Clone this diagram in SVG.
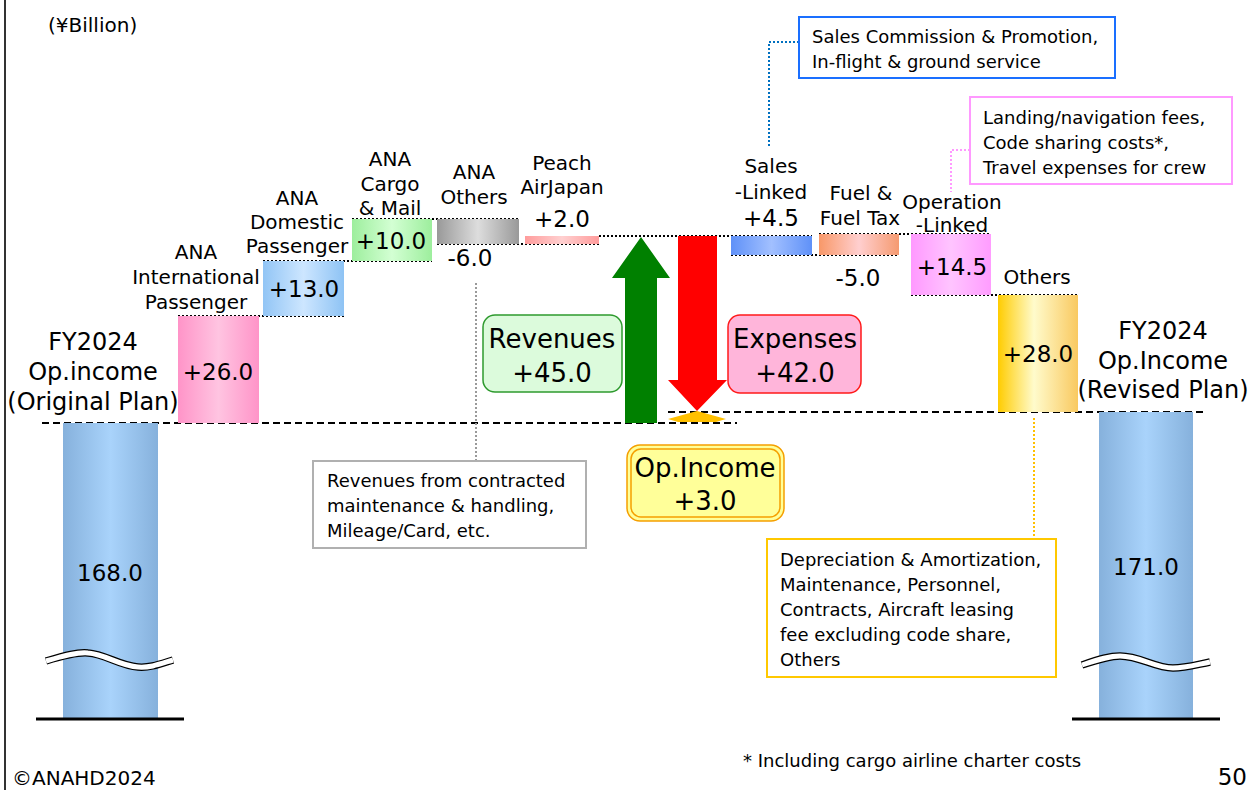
<svg xmlns="http://www.w3.org/2000/svg" width="1250" height="790" viewBox="0 0 1250 790">
<style>
text{font-family:"DejaVu Sans","Verdana",sans-serif;fill:#000}
.lbl{font-size:20px;text-anchor:middle}
.val{font-size:23px;text-anchor:middle}
.big{font-size:24px;text-anchor:middle}
.box{font-size:26px;text-anchor:middle}
.note{font-size:18px}
.dot{fill:none;stroke:#000;stroke-width:2;stroke-dasharray:2 2}
.dash{fill:none;stroke:#000;stroke-width:2;stroke-dasharray:7 4}
.base{stroke:#000;stroke-width:3}
.wave{fill:none;stroke:#000;stroke-width:7.5}
.wavein{fill:none;stroke:#fff;stroke-width:5}
</style>
<defs>
<linearGradient id="gBig" x1="0" x2="1" y1="0" y2="0"><stop offset="0" stop-color="#86b1dc"/><stop offset="0.5" stop-color="#a9d3fb"/><stop offset="1" stop-color="#86b1dc"/></linearGradient>
<linearGradient id="gPink" x1="0" x2="1" y1="0" y2="0"><stop offset="0" stop-color="#ff94c8"/><stop offset="0.5" stop-color="#ffc4e1"/><stop offset="1" stop-color="#ff94c8"/></linearGradient>
<linearGradient id="gBlue" x1="0" x2="1" y1="0" y2="0"><stop offset="0" stop-color="#92c5f5"/><stop offset="0.5" stop-color="#cde6ff"/><stop offset="1" stop-color="#8ec3f4"/></linearGradient>
<linearGradient id="gGreen" x1="0" x2="1" y1="0" y2="0"><stop offset="0" stop-color="#9dee9d"/><stop offset="0.5" stop-color="#d3ffd3"/><stop offset="1" stop-color="#9dee9d"/></linearGradient>
<linearGradient id="gGray" x1="0" x2="1" y1="0" y2="0"><stop offset="0" stop-color="#999"/><stop offset="0.5" stop-color="#ddd"/><stop offset="1" stop-color="#999"/></linearGradient>
<linearGradient id="gPeach" x1="0" x2="1" y1="0" y2="0"><stop offset="0" stop-color="#ff9c9c"/><stop offset="0.5" stop-color="#ffd0d0"/><stop offset="1" stop-color="#ff9c9c"/></linearGradient>
<linearGradient id="gSales" x1="0" x2="1" y1="0" y2="0"><stop offset="0" stop-color="#5f91f8"/><stop offset="0.5" stop-color="#a2c0ff"/><stop offset="1" stop-color="#5f91f8"/></linearGradient>
<linearGradient id="gFuel" x1="0" x2="1" y1="0" y2="0"><stop offset="0" stop-color="#f89868"/><stop offset="0.5" stop-color="#ffcfcf"/><stop offset="1" stop-color="#f59a70"/></linearGradient>
<linearGradient id="gOp" x1="0" x2="1" y1="0" y2="0"><stop offset="0" stop-color="#ff99ff"/><stop offset="0.5" stop-color="#ffc4ff"/><stop offset="1" stop-color="#ff9cff"/></linearGradient>
<linearGradient id="gOth" x1="0" x2="1" y1="0" y2="0"><stop offset="0" stop-color="#ffcc00"/><stop offset="0.45" stop-color="#fffbcc"/><stop offset="1" stop-color="#f9c960"/></linearGradient>
</defs>

<rect x="0" y="0" width="1250" height="790" fill="#fff"/>
<line x1="5" y1="0" x2="5" y2="790" stroke="#333" stroke-width="2"/>
<text x="48" y="32" style="font-size:20px">(¥Billion)</text>

<g id="connectors">
<line class="dash" x1="42" y1="423" x2="737" y2="423"/>
<line class="dash" x1="668" y1="412" x2="1203" y2="412"/>
<line class="dot" x1="178" y1="316" x2="344" y2="316"/>
<line class="dot" x1="263" y1="261" x2="432" y2="261"/>
<line class="dot" x1="352" y1="219" x2="519" y2="219"/>
<line class="dot" x1="437" y1="244" x2="599" y2="244"/>
<line class="dot" x1="599" y1="236" x2="812" y2="236"/>
<line class="dot" x1="731" y1="255" x2="899" y2="255"/>
<line class="dot" x1="819" y1="234" x2="991" y2="234"/>
<line class="dot" x1="911" y1="295" x2="1078" y2="295"/>
<polyline points="799,42 769,42 769,147" fill="none" stroke="#0070c0" stroke-width="2" stroke-dasharray="2 2"/>
<polyline points="970,150 951,150 951,192" fill="none" stroke="#ff99ff" stroke-width="2" stroke-dasharray="2 2"/>
<line x1="476" y1="283" x2="476" y2="461" stroke="#999" stroke-width="2" stroke-dasharray="2 2"/>
<line x1="1034" y1="418" x2="1034" y2="539" stroke="#ffc000" stroke-width="2" stroke-dasharray="2 2"/>
</g>

<g id="fy2024-original">
<rect x="63" y="423" width="95" height="295" fill="url(#gBig)"/>
<line class="base" x1="36" y1="719" x2="184" y2="719"/>
<path class="wave" d="M46,661 C66,655 78,652 88,653 C105,654 120,666 138,667 C150,668 160,664 173,660"/>
<path class="wavein" d="M46,661 C66,655 78,652 88,653 C105,654 120,666 138,667 C150,668 160,664 173,660"/>
<text class="val" x="110" y="581">168.0</text>
<text class="big" x="93" y="350">FY2024</text>
<text class="big" x="93" y="380">Op.income</text>
<text class="big" x="93" y="410">(Original Plan)</text>
</g>

<g id="ana-international">
<rect x="178" y="316" width="81" height="107" fill="url(#gPink)"/>
<text class="val" x="218" y="380">+26.0</text>
<text class="lbl" x="196" y="259">ANA</text>
<text class="lbl" x="196" y="284">International</text>
<text class="lbl" x="196" y="309">Passenger</text>
</g>

<g id="ana-domestic">
<rect x="263" y="261" width="81" height="55" fill="url(#gBlue)"/>
<text class="val" x="304" y="297">+13.0</text>
<text class="lbl" x="297" y="205">ANA</text>
<text class="lbl" x="297" y="229">Domestic</text>
<text class="lbl" x="297" y="253">Passenger</text>
</g>

<g id="ana-cargo">
<rect x="352" y="219" width="80" height="42" fill="url(#gGreen)"/>
<text class="val" x="391" y="249">+10.0</text>
<text class="lbl" x="390" y="166">ANA</text>
<text class="lbl" x="390" y="191">Cargo</text>
<text class="lbl" x="390" y="215">&amp; Mail</text>
</g>

<g id="ana-others">
<rect x="437" y="219" width="82" height="25" fill="url(#gGray)"/>
<text class="val" x="470" y="266">-6.0</text>
<text class="lbl" x="474" y="179">ANA</text>
<text class="lbl" x="474" y="204">Others</text>
</g>

<g id="peach">
<rect x="525" y="236" width="74" height="8" fill="url(#gPeach)"/>
<text class="val" x="562" y="227">+2.0</text>
<text class="lbl" x="562" y="170">Peach</text>
<text class="lbl" x="562" y="194">AirJapan</text>
</g>

<g id="revenues">
<polygon points="641,237 670,278 657,278 657,423 625,423 625,278 612,278" fill="#008000"/>
<rect x="483" y="315" width="139" height="77" rx="12" fill="#dcfbdc" stroke="#2e9a2e" stroke-width="1.5"/>
<text class="box" x="552" y="348">Revenues</text>
<text class="box" x="552" y="382">+45.0</text>
</g>

<g id="expenses">
<polygon points="678,236 717,236 717,380 727,380 697,411 668,380 678,380" fill="#ff0000"/>
<rect x="728" y="315" width="133" height="78" rx="12" fill="#ffb5da" stroke="#ff1a1a" stroke-width="1.5"/>
<text class="box" x="795" y="348">Expenses</text>
<text class="box" x="795" y="382">+42.0</text>
</g>

<g id="op-income">
<polygon points="668,419 697,411 726,419 716,422 678,422" fill="#ffc000"/>
<rect x="627" y="445" width="157" height="76" rx="13" fill="#ffff99" stroke="#f5a000" stroke-width="1.5"/>
<rect x="631" y="449" width="149" height="68" rx="10" fill="none" stroke="#f5a000" stroke-width="1.5"/>
<text class="box" x="705" y="477">Op.Income</text>
<text class="box" x="705" y="510">+3.0</text>
</g>

<g id="sales-linked">
<rect x="731" y="236" width="81" height="19" fill="url(#gSales)"/>
<text class="val" x="771" y="226">+4.5</text>
<text class="lbl" x="771" y="173">Sales</text>
<text class="lbl" x="771" y="199">-Linked</text>
</g>

<g id="fuel">
<rect x="819" y="234" width="80" height="21" fill="url(#gFuel)"/>
<text class="val" x="858" y="286">-5.0</text>
<text class="lbl" x="861" y="200">Fuel &amp;</text>
<text class="lbl" x="860" y="225">Fuel Tax</text>
</g>

<g id="operation-linked">
<rect x="911" y="234" width="80" height="61" fill="url(#gOp)"/>
<text class="val" x="952" y="275">+14.5</text>
<text class="lbl" x="952" y="209">Operation</text>
<text class="lbl" x="952" y="232">-Linked</text>
</g>

<g id="others">
<rect x="998" y="295" width="80" height="117" fill="url(#gOth)"/>
<text class="val" x="1038" y="362">+28.0</text>
<text class="lbl" x="1037" y="284">Others</text>
</g>

<g id="fy2024-revised">
<rect x="1099" y="412" width="94" height="306" fill="url(#gBig)"/>
<line class="base" x1="1072" y1="719" x2="1220" y2="719"/>
<path class="wave" d="M1082,665 C1100,659 1110,656 1120,656 C1140,656 1155,668 1173,668 C1185,668 1195,665 1210,662"/>
<path class="wavein" d="M1082,665 C1100,659 1110,656 1120,656 C1140,656 1155,668 1173,668 C1185,668 1195,665 1210,662"/>
<text class="val" x="1146" y="575">171.0</text>
<text class="big" x="1163" y="339">FY2024</text>
<text class="big" x="1163" y="369">Op.Income</text>
<text class="big" x="1163" y="398">(Revised Plan)</text>
</g>

<g id="note-sales">
<rect x="799" y="17" width="316" height="61" fill="#fff" stroke="#1a6fff" stroke-width="2"/>
<text class="note" x="812" y="43">Sales Commission &amp; Promotion,</text>
<text class="note" x="812" y="68">In-flight &amp; ground service</text>
</g>

<g id="note-operation">
<rect x="970" y="97" width="262" height="87" fill="#fff" stroke="#ff99ff" stroke-width="2"/>
<text class="note" x="983" y="124">Landing/navigation fees,</text>
<text class="note" x="983" y="149">Code sharing costs*,</text>
<text class="note" x="983" y="174">Travel expenses for crew</text>
</g>

<g id="note-revenues">
<rect x="313" y="461" width="273" height="87" fill="#fff" stroke="#b0b0b0" stroke-width="2"/>
<text class="note" x="327" y="487">Revenues from contracted</text>
<text class="note" x="327" y="512">maintenance &amp; handling,</text>
<text class="note" x="327" y="537">Mileage/Card, etc.</text>
</g>

<g id="note-others">
<rect x="767" y="539" width="289" height="138" fill="#fff" stroke="#ffc800" stroke-width="2"/>
<text class="note" x="780" y="566">Depreciation &amp; Amortization,</text>
<text class="note" x="780" y="591">Maintenance, Personnel,</text>
<text class="note" x="780" y="616">Contracts, Aircraft leasing</text>
<text class="note" x="780" y="641">fee excluding code share,</text>
<text class="note" x="780" y="666">Others</text>
</g>

<text class="note" x="743" y="767">* Including cargo airline charter costs</text>
<text x="1247" y="785" style="font-size:23px;text-anchor:end">50</text>
<text x="12" y="785" style="font-size:20px">©ANAHD2024</text>
</svg>
